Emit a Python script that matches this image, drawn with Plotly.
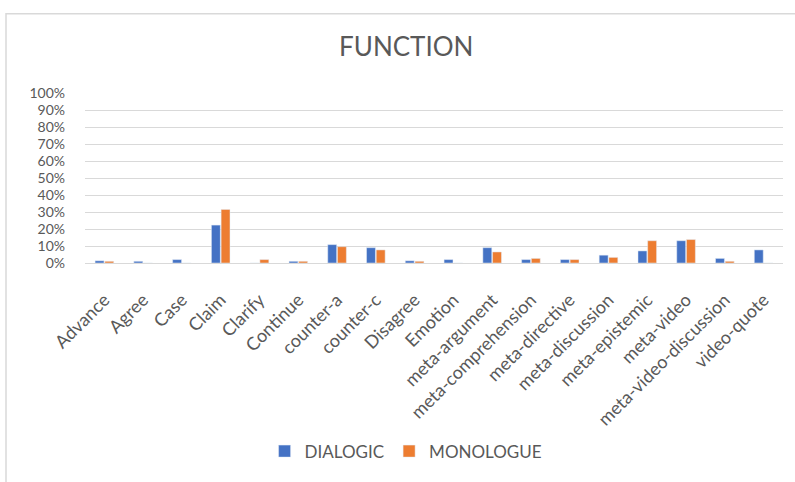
import plotly.graph_objects as go

categories = ["Advance", "Agree", "Case", "Claim", "Clarify", "Continue", "counter-a",
              "counter-c", "Disagree", "Emotion", "meta-argument", "meta-comprehension",
              "meta-directive", "meta-discussion", "meta-epistemic", "meta-video",
              "meta-video-discussion", "video-quote"]
dialogic = [0.013, 0.010, 0.020, 0.223, 0.0, 0.010, 0.108, 0.090, 0.013, 0.020,
            0.090, 0.020, 0.020, 0.046, 0.071, 0.131, 0.027, 0.077]
monologue = [0.010, 0.0, 0.0, 0.315, 0.020, 0.010, 0.096, 0.077, 0.010, 0.0,
             0.065, 0.027, 0.020, 0.033, 0.131, 0.138, 0.010, 0.0]
y_ticks = [i / 10 for i in range(11)]
y_tick_text = [f"{i * 10}%" for i in range(11)]

W, H = 795, 482
L, R, T, B = 85, 12, 93, 215
pw, ph = W - L - R, H - T - B

font = "Lato, 'Open Sans', sans-serif"
grey = "#595959"

fig = go.Figure()
fig.add_trace(go.Bar(name="DIALOGIC", x=categories, y=dialogic, marker_color="#4472C4"))
fig.add_trace(go.Bar(name="MONOLOGUE", x=categories, y=monologue, marker_color="#ED7D31"))

fig.update_layout(
    width=W, height=H,
    margin=dict(l=L, r=R, t=T, b=B, pad=0),
    paper_bgcolor="white", plot_bgcolor="white",
    barmode="group", bargap=0.5, bargroupgap=0.08,
    font=dict(family=font, color=grey, size=16),
    title=dict(text="FUNCTION", x=0.511, xanchor="center", y=1 - 47 / H, yanchor="middle",
               xref="container", yref="container",
               font=dict(family=font, size=26, color=grey)),
    legend=dict(orientation="h", x=0.46, xanchor="center", y=(T + ph - 460) / ph,
                yanchor="middle", font=dict(size=17, color=grey),
                itemwidth=30, traceorder="normal"),
    showlegend=True,
)
fig.update_xaxes(tickangle=-45, showgrid=False, showline=False, ticks="",
                 tickfont=dict(size=18, color=grey), ticklabelstandoff=22)
fig.update_yaxes(range=[0, 1], tickvals=y_ticks, ticktext=y_tick_text,
                 showgrid=True, gridcolor="#d9d9d9", gridwidth=1,
                 zeroline=True, zerolinecolor="#d9d9d9", zerolinewidth=1,
                 ticks="", tickfont=dict(size=14, color=grey), ticklabelstandoff=19)

# Chart frame (left and top edges visible)
fig.add_shape(type="rect", xref="paper", yref="paper",
              x0=(6 - L) / pw, x1=(W + 20 - L) / pw,
              y0=-(B + 20) / ph, y1=1 + (T - 12) / ph,
              line=dict(color="#d9d9d9", width=1.5), fillcolor="rgba(0,0,0,0)", layer="below")

fig.write_html("out.html")
